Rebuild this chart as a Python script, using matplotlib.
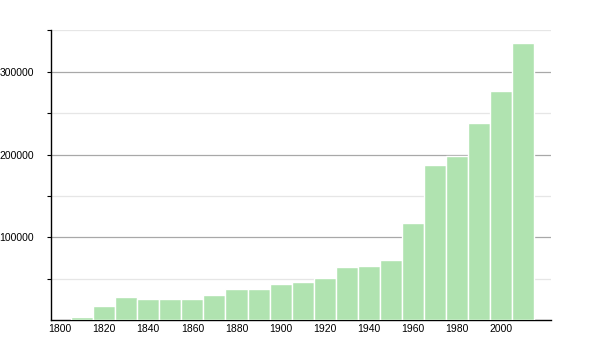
import numpy as np
from matplotlib import pyplot as plt

# data (one bar per decade)
years = [1810, 1820, 1830, 1840, 1850, 1860, 1870, 1880, 1890, 1900, 1910,
         1920, 1930, 1940, 1950, 1960, 1970, 1980, 1990, 2000, 2010]
population = [4000, 17000, 28000, 25000, 25000, 25000, 30000, 37500, 37500,
              43600, 46400, 51000, 64000, 65500, 73000, 117000, 187000,
              198000, 238500, 277000, 335000]

x_ticks = list(range(1800, 2001, 20))
y_major = [100000, 200000, 300000]
y_minor = [50000, 150000, 250000, 350000]

plt.rcParams['font.family'] = ['Liberation Sans', 'DejaVu Sans']

fig = plt.figure(figsize=(6, 3.5), dpi=100)
ax = fig.add_axes([0.0845, 0.0857, 0.8335, 0.8273])

ax.bar(years, population, width=10, color='#b0e3b0', edgecolor='white',
       linewidth=1.0, zorder=3)

# gridlines
for v in y_minor:
    ax.axhline(v, color='#e6e6e6', linewidth=0.9, zorder=1)
for v in y_major:
    ax.axhline(v, color='#a8a8a8', linewidth=0.9, zorder=1)

ax.set_xlim(1795.8, 2022.4)
ax.set_ylim(0, 350000)

ax.set_xticks(x_ticks)
ax.set_xticklabels([str(t) for t in x_ticks], fontsize=7.5)
ax.tick_params(axis='x', length=0, pad=3)

ax.set_yticks(y_major)
ax.set_yticklabels([str(t) for t in y_major], fontsize=7.5)
ax.set_yticks(y_minor, minor=True)
ax.tick_params(axis='y', which='both', length=3, width=0.8, pad=9)

for s in ['top', 'right']:
    ax.spines[s].set_visible(False)
ax.spines['left'].set_linewidth(1.0)
ax.spines['bottom'].set_linewidth(1.0)

fig.savefig('out.png', dpi=100)
